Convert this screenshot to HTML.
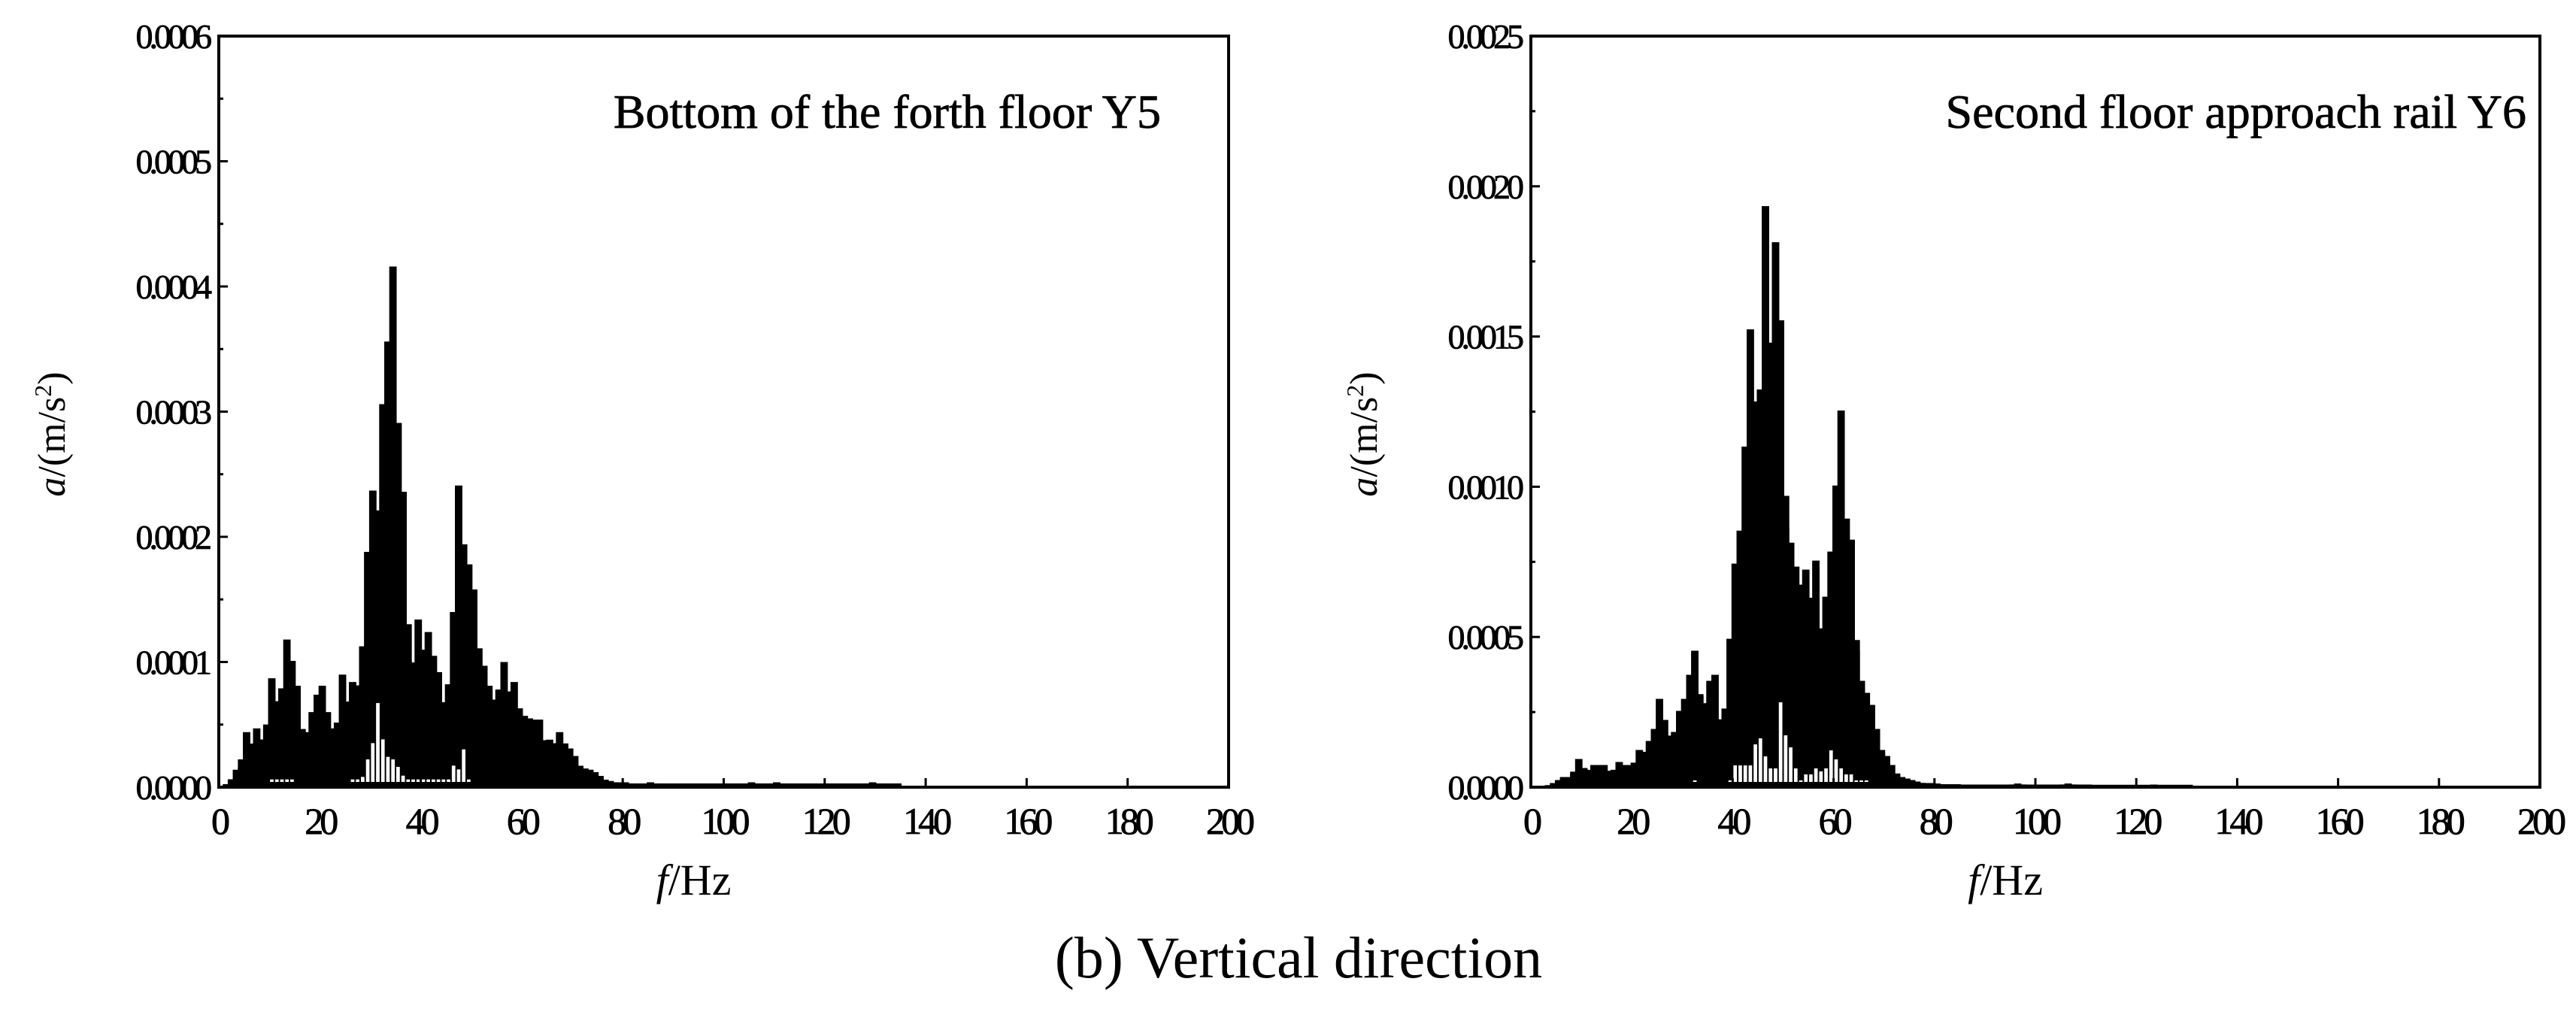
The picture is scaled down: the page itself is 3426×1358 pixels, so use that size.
<!DOCTYPE html>
<html><head><meta charset="utf-8"><style>
body{margin:0;background:#fff;width:3426px;height:1353px;overflow:hidden}
svg text{font-family:"Liberation Serif",serif;fill:#000}
</style></head><body>
<svg id="fig" width="3426" height="1353" viewBox="0 0 3426 1353" xmlns="http://www.w3.org/2000/svg">
<text x="1727" y="1300" font-size="78" text-anchor="middle">(b) Vertical direction</text>
</svg>
<script>
// Left chart data (units 1e-4 m/s², 1 Hz bins from 0)
const leftUpper=[0,0,0.05,0.13,0.15,0.43,0.24,0.46,0.32,0.46,0.86,0.62,0.78,1.17,1.0,0.8,0.29,0.43,0.59,0.73,0.8,0.59,0.46,0.34,0.89,0.53,0.83,0.75,1.1,1.87,2.36,1.93,3.05,3.55,4.15,2.9,2.35,1.0,0.96,1.33,1.07,1.23,1.04,0.91,0.67,0.65,1.39,2.4,1.93,1.77,1.57,1.1,0.96,0.8,0.69,0.77,0.99,0.7,0.83,0.62,0.56,0.54,0.53,0.53,0.32,0.37,0.34,0.43,0.34,0.3,0.24,0.16,0.14,0.13,0.11,0.08,0.05,0.04,0.03,0.03,0.03,0.02,0.02,0.02,0.02,0.03,0.02,0.02,0.02,0.02,0.02,0.02,0.02,0.02,0.02,0.02,0.02,0.02,0.02,0.02,0.02,0.02,0.02,0.02,0.02,0.03,0.02,0.02,0.02,0.02,0.03,0.02,0.02,0.02,0.02,0.02,0.02,0.02,0.02,0.02,0.02,0.02,0.02,0.02,0.02,0.02,0.02,0.02,0.02,0.03,0.02,0.02,0.02,0.02,0.02];
const leftLower=[0,0,0,0,0,0.05,0.05,0.05,0.06,0.06,0.08,0.08,0.08,0.08,0.08,0.06,0.05,0.05,0.06,0.06,0.06,0.05,0.05,0.05,0.06,0.06,0.08,0.08,0.1,0.24,0.37,0.69,0.4,0.26,0.24,0.18,0.11,0.08,0.08,0.08,0.08,0.08,0.08,0.08,0.08,0.08,0.19,0.16,0.32,0.08,0.05,0.05,0.05,0.05,0.05,0.05,0.05,0.05,0.05,0.05,0.05,0.05,0.05,0.05,0.05,0.05,0,0,0,0,0];
const leftYTicks=["0.0000","0.0001","0.0002","0.0003","0.0004","0.0005","0.0006"];
// Right chart data (units 1e-4 m/s², 1 Hz bins)
const rightUpper=[0,0,0,0,0.1,0.2,0.3,0.3,0.4,0.9,0.6,0.5,0.7,0.7,0.7,0.5,0.5,0.8,0.7,0.7,0.7,1.2,1.1,1.5,1.9,2.9,2.2,1.6,1.8,2.5,2.9,3.7,4.5,3.0,2.7,3.5,3.7,1.9,1.8,4.9,7.4,8.5,11.3,15.2,12.8,11.9,19.3,11.8,18.1,15.5,8.6,8.1,7.3,6.7,7.2,6.2,7.5,3.7,6.3,7.8,10,12.5,8.9,8.2,4.5,3.5,3.1,2.7,1.9,1.1,1.0,0.7,0.4,0.3,0.25,0.2,0.15,0.1,0.1,0.1,0.08,0.06,0.06,0.06,0.06,0.05,0.05,0.05,0.05,0.05,0.05,0.05,0.05,0.05,0.05,0.05,0.08,0.05,0.05,0.05,0.05,0.05,0.05,0.05,0.05,0.05,0.08,0.05,0.05,0.05,0.05,0.04,0.04,0.04,0.04,0.04,0.04,0.04,0.04,0.04,0.04,0.04,0.04,0.05,0.04,0.04,0.04,0.04,0.04,0.04,0.04];
const rightLower=[0,0,0,0,0,0,0,0,0,0,0,0,0,0,0,0,0,0,0,0,0,0.2,0.2,0.2,0.2,0.2,0.2,0.2,0.2,0.2,0.2,0.2,0.3,0.2,0.2,0.2,0.2,0.2,0.2,0.3,0.8,0.8,0.8,0.8,1.5,1.7,1.1,0.7,0.7,2.9,1.8,1.4,0.7,0.3,0.5,0.5,0.7,0.6,0.7,1.3,1.0,0.7,0.5,0.5,0.3,0.3,0.3,0];
const rightYTicks=["0.0000","0.0005","0.0010","0.0015","0.0020","0.0025"];
const xTicks=[0,20,40,60,80,100,120,140,160,180,200];

const svg=document.getElementById('fig');
const NS="http://www.w3.org/2000/svg";
function mk(tag,attrs){const e=document.createElementNS(NS,tag);for(const k in attrs)e.setAttribute(k,attrs[k]);svg.appendChild(e);return e;}

function chart(o){
  const x=f=>o.x0+(f/200)*(o.x1-o.x0);
  const y=v=>o.y1-(v/o.ymax)*(o.y1-o.y0);
  const u=o.upper, n=u.length;
  // dense body: local mean fills narrow dips (the spectrum is denser than 1 Hz bins)
  let d='M'+x(0)+','+y(0);
  u.forEach((v,i)=>{
    const m=((u[i-1]||0)+v+(u[i+1]||0))/3;
    const b=Math.max(v,m*0.9);
    d+=' L'+x(i)+','+y(b)+' L'+x(i+1)+','+y(b);
  });
  d+=' L'+x(n)+','+y(0)+' Z';
  const body=mk('path',{d:d,fill:'#000',stroke:'#000','stroke-width':3});
  
  
  let d2='M'+x(0)+','+y(0);
  u.forEach((v,i)=>{d2+=' L'+x(i)+','+y(v)+' L'+x(i+1)+','+y(v);});
  d2+=' L'+x(n)+','+y(0)+' Z';
  const area=mk('path',{d:d2,fill:'#000',stroke:'#000','stroke-width':3});
  
  
  const base=y(0)-7;
  o.lower.forEach((v,i)=>{
    const h=base-(y(v)+3);
    if(h>1){
      const r=mk('rect',{x:x(i)+1,y:y(v)+3,width:x(i+1)-x(i)-2,height:h,fill:'#fff'});
      
      
    }
  });
  const fr=mk('rect',{x:o.x0,y:o.y0,width:o.x1-o.x0,height:o.y1-o.y0,fill:'none',stroke:'#000','stroke-width':4});
  
  
  xTicks.forEach(t=>{
    mk('line',{x1:x(t),x2:x(t),y1:o.y1,y2:o.y1-12,stroke:'#000','stroke-width':3});
    const tx=mk('text',{x:x(t),y:o.y1+62,'font-size':50,'text-anchor':'middle','letter-spacing':-5,stroke:'#000','stroke-width':0.8});
    tx.textContent=t;
    
    
  });
  o.yt.forEach((t,i)=>{
    const v=parseFloat(t)*1e4;
    mk('line',{x1:o.x0,x2:o.x0+12,y1:y(v),y2:y(v),stroke:'#000','stroke-width':3});
    if(i<o.yt.length-1)mk('line',{x1:o.x0,x2:o.x0+6,y1:y(v+o.step/2),y2:y(v+o.step/2),stroke:'#000','stroke-width':3});
    const tx=mk('text',{x:o.x0-14,y:y(v)+16,'font-size':46,'text-anchor':'end','letter-spacing':-5,stroke:'#000','stroke-width':0.8});
    tx.textContent=t;
    
    
  });
  const ti=mk('text',{x:o.x1-o.tr,y:o.y0+122,'font-size':64,'text-anchor':'end',stroke:'#000','stroke-width':0.8});
  ti.textContent=o.title;
  
  
  const xl=mk('text',{x:(o.x0+o.x1)/2-40,y:1190,'font-size':58,'text-anchor':'middle'});
  xl.innerHTML='<tspan font-style="italic">f</tspan>/Hz';
  
  
  const yl=mk('text',{x:0,y:0,'font-size':52,'text-anchor':'middle',transform:`translate(${o.x0-205},${(o.y0+o.y1)/2+30}) rotate(-90)`});
  yl.innerHTML='<tspan font-style="italic">a</tspan>/(m/s<tspan dy="-18" font-size="32">2</tspan><tspan dy="18">)</tspan>';
  
  
}
chart({name:'left-chart',x0:291,x1:1634,y0:48,y1:1047,ymax:6,step:1,upper:leftUpper,lower:leftLower,yt:leftYTicks,title:'Bottom of the forth floor Y5',tr:90});
chart({name:'right-chart',x0:2036,x1:3378,y0:48,y1:1047,ymax:25,step:5,upper:rightUpper,lower:rightLower,yt:rightYTicks,title:'Second floor approach rail Y6',tr:18});
</script>
</body></html>
